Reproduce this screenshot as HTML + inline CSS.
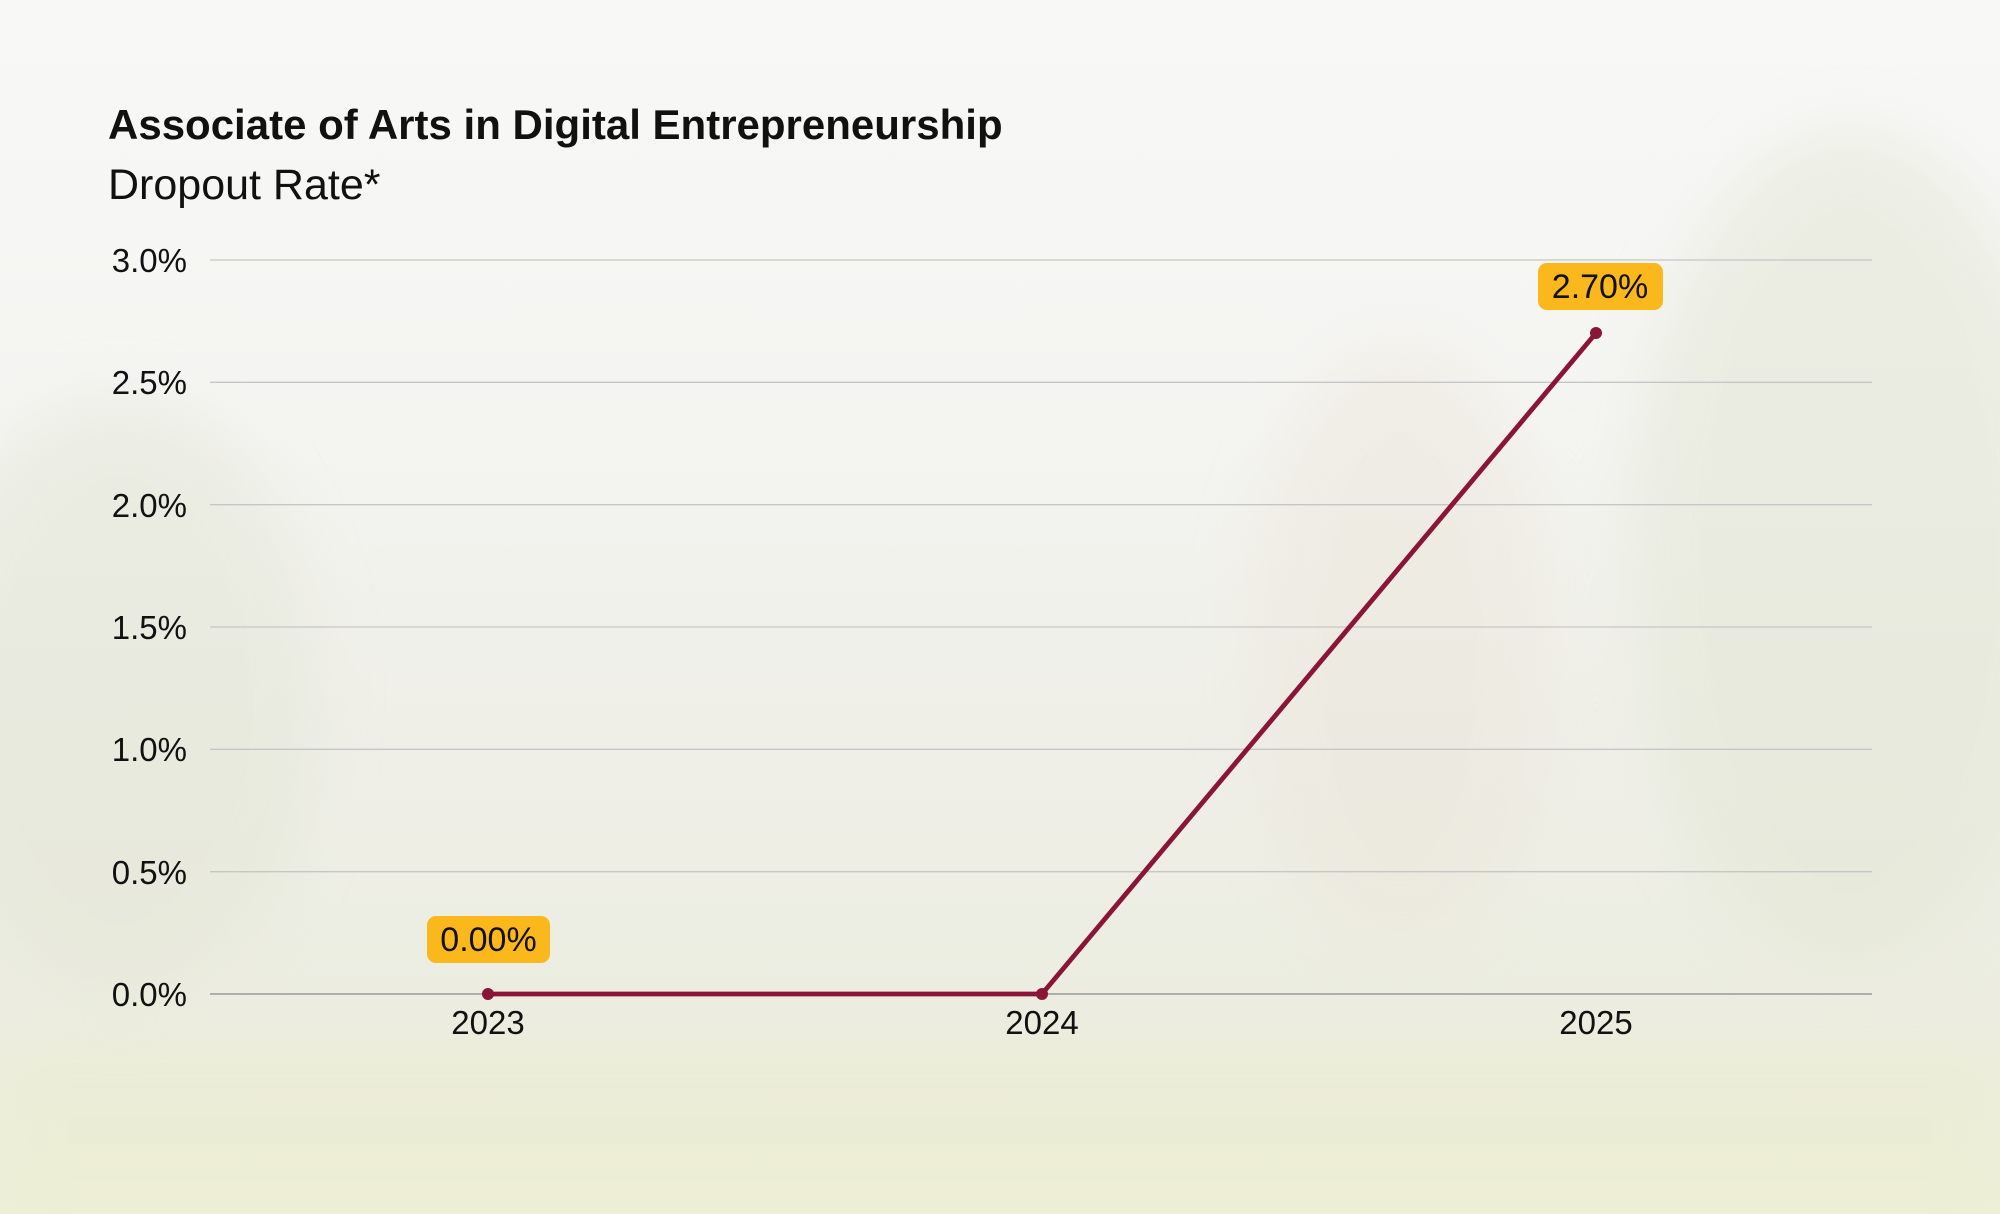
<!DOCTYPE html>
<html><head><meta charset="utf-8"><style>
html,body{margin:0;padding:0;}
body{width:2000px;height:1214px;overflow:hidden;font-family:"Liberation Sans",sans-serif;
background:linear-gradient(180deg,#f8f8f7 0%,#f4f4f1 35%,#efefe8 60%,#ecede0 85%,#eef0d8 100%);position:relative;}
.t{position:absolute;left:108px;color:#111;white-space:nowrap;}
</style></head><body>
<svg width="2000" height="1214" style="position:absolute;left:0;top:0">
<defs><filter id="b"><feGaussianBlur stdDeviation="30"/></filter></defs>
<g filter="url(#b)" opacity="0.5">
<ellipse cx="120" cy="700" rx="200" ry="300" fill="#e3e6d6"/>
<ellipse cx="1850" cy="550" rx="220" ry="420" fill="#e2e6d4"/>
<ellipse cx="1400" cy="650" rx="150" ry="300" fill="#ebe6da"/>
<rect x="0" y="1050" width="2000" height="164" fill="#e9ebcf"/>
</g>
<g stroke="#c6c6c6" stroke-width="1.3">
<line x1="210" x2="1872" y1="260" y2="260"/>
<line x1="210" x2="1872" y1="382.3" y2="382.3"/>
<line x1="210" x2="1872" y1="504.7" y2="504.7"/>
<line x1="210" x2="1872" y1="627" y2="627"/>
<line x1="210" x2="1872" y1="749.3" y2="749.3"/>
<line x1="210" x2="1872" y1="871.7" y2="871.7"/>
</g>
<line x1="210" x2="1872" y1="994" y2="994" stroke="#999" stroke-width="1.5"/>
<g font-family="Liberation Sans, sans-serif" font-size="33" fill="#111" text-anchor="end">
<text x="187" y="272">3.0%</text>
<text x="187" y="394">2.5%</text>
<text x="187" y="517">2.0%</text>
<text x="187" y="639">1.5%</text>
<text x="187" y="761">1.0%</text>
<text x="187" y="884">0.5%</text>
<text x="187" y="1006">0.0%</text>
</g>
<g font-family="Liberation Sans, sans-serif" font-size="33" fill="#111" text-anchor="middle">
<text x="488" y="1034">2023</text>
<text x="1042" y="1034">2024</text>
<text x="1596" y="1034">2025</text>
</g>
<polyline points="488,994 1042,994 1596,333" fill="none" stroke="#8a1538" stroke-width="4.8" stroke-linejoin="round"/>
<circle cx="488" cy="994" r="6" fill="#8a1538"/>
<circle cx="1042" cy="994" r="6" fill="#8a1538"/>
<circle cx="1596" cy="333" r="6" fill="#8a1538"/>
<rect x="427" y="916" width="123" height="47" rx="9" fill="#fbb81c"/>
<text x="488.5" y="951" font-family="Liberation Sans, sans-serif" font-size="34" fill="#111" text-anchor="middle">0.00%</text>
<rect x="1538" y="263" width="125" height="47" rx="9" fill="#fbb81c"/>
<text x="1600" y="298" font-family="Liberation Sans, sans-serif" font-size="34" fill="#111" text-anchor="middle">2.70%</text>
</svg>
<div class="t" style="top:101px;font-size:42px;font-weight:bold;">Associate of Arts in Digital Entrepreneurship</div>
<div class="t" style="top:161px;font-size:43px;">Dropout Rate*</div>
</body></html>
